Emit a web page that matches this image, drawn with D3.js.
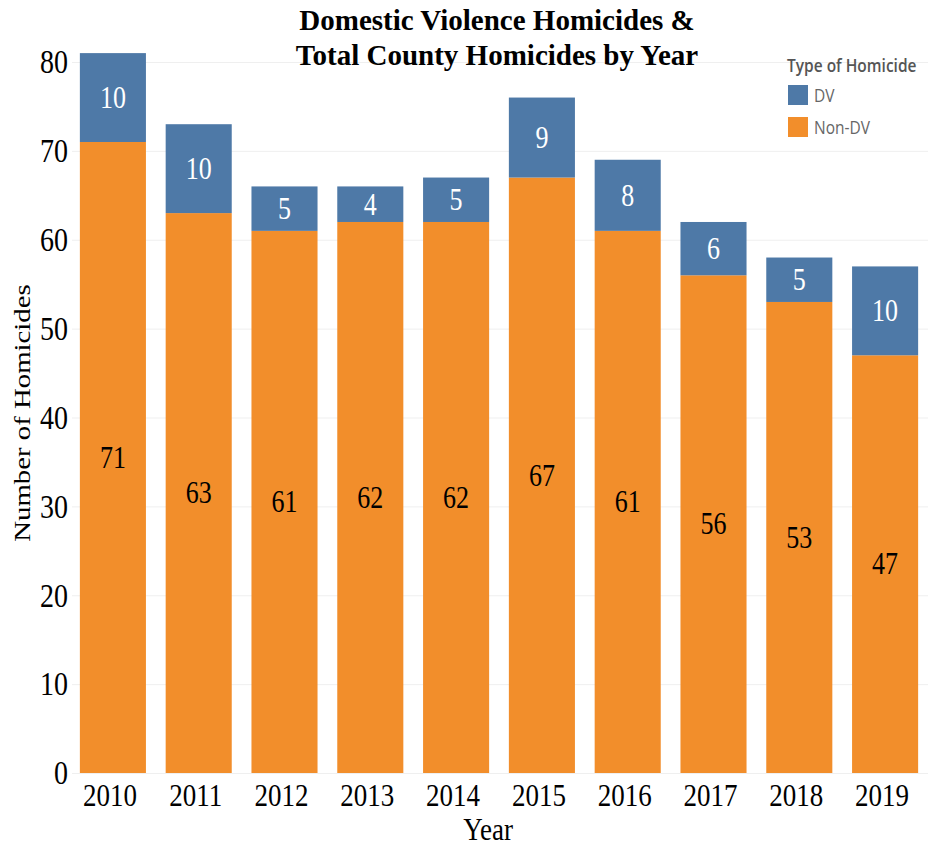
<!DOCTYPE html>
<html>
<head>
<meta charset="utf-8">
<script src="https://cdn.jsdelivr.net/npm/d3@7"></script>
<style>
  body { margin: 0; background: #fff; }
  .axis text { font-family: "Liberation Serif", "Times New Roman", serif; fill: #000; }
</style>
</head>
<body>
<div class="chart"></div>
<script>
const years = ["2010", "2011", "2012", "2013", "2014", "2015", "2016", "2017", "2018", "2019"];
const nonDV = [71, 63, 61, 62, 62, 67, 61, 56, 53, 47];
const dv = [10, 10, 5, 4, 5, 9, 8, 6, 5, 10];
const yTicks = [0, 10, 20, 30, 40, 50, 60, 70, 80];
const legendItems = ["DV", "Non-DV"];

const width = 933;
const height = 848;
const colors = { "DV": "#4e79a7", "Non-DV": "#f28e2b" };
const serif = '"Liberation Serif", "Times New Roman", serif';
const stretch = 1.2; // the source text looks taller than wide

const svg = d3.select(".chart")
	.append("svg")
	.attr("width", width)
	.attr("height", height);

const x = d3.scaleBand()
	.domain(years)
	.range([70, 928])
	.paddingInner(0.23)
	.paddingOuter(0.115);

const y = d3.scaleLinear()
	.domain([0, 80])
	.range([773, 62]);

// gridlines
svg.append("g")
	.selectAll("line")
	.data(yTicks)
	.enter()
	.append("line")
		.attr("x1", 72)
		.attr("x2", 928)
		.attr("y1", (d) => y(d) + 0.5)
		.attr("y2", (d) => y(d) + 0.5)
		.attr("stroke", "#efefef");

// y axis
const yAxis = svg.append("g")
	.attr("class", "axis")
	.attr("transform", "translate(68,0)")
	.call(d3.axisLeft(y).tickValues(yTicks).tickSize(0).tickPadding(0));
yAxis.select(".domain").remove();
yAxis.selectAll("text")
	.style("font-size", "28px")
	.attr("transform", `scale(1,${stretch})`);

// x axis
const xAxis = svg.append("g")
	.attr("class", "axis")
	.attr("transform", "translate(-3,775)")
	.call(d3.axisBottom(x).tickSize(0).tickPadding(7));
xAxis.select(".domain").remove();
xAxis.selectAll("text")
	.style("font-size", "27px")
	.attr("transform", `scale(1,${stretch})`);

const rows = years.map((year, i) => ({ year, nonDV: nonDV[i], dv: dv[i] }));

const bars = svg.append("g")
	.selectAll("g")
	.data(rows)
	.enter()
	.append("g");

bars.append("rect")
	.attr("x", (d) => x(d.year))
	.attr("width", x.bandwidth())
	.attr("y", (d) => y(d.nonDV))
	.attr("height", (d) => y(0) - y(d.nonDV))
	.attr("fill", colors["Non-DV"]);

bars.append("rect")
	.attr("x", (d) => x(d.year))
	.attr("width", x.bandwidth())
	.attr("y", (d) => y(d.nonDV + d.dv))
	.attr("height", (d) => y(d.nonDV) - y(d.nonDV + d.dv))
	.attr("fill", colors["DV"]);

// value labels
const valueLabel = (sel, val, mid, fill) => sel.append("text")
	.attr("transform", (d) => `translate(${x(d.year) + x.bandwidth() / 2},${y(mid(d))}) scale(1,${stretch})`)
	.attr("dy", "0.33em")
	.attr("text-anchor", "middle")
	.style("font-family", serif)
	.style("font-size", "26px")
	.attr("fill", fill)
	.text(val);

valueLabel(bars, (d) => d.nonDV, (d) => d.nonDV / 2, "#000");
valueLabel(bars, (d) => d.dv, (d) => d.nonDV + d.dv / 2, "#fff");

// titles
svg.append("text")
	.attr("text-anchor", "middle")
	.style("font-family", serif)
	.style("font-size", "29px")
	.style("font-weight", "bold")
	.selectAll("tspan")
	.data(["Domestic Violence Homicides &", "Total County Homicides by Year"])
	.enter()
	.append("tspan")
		.attr("x", 497)
		.attr("y", (d, i) => 30 + i * 35)
		.text((d) => d);

svg.append("text")
	.attr("transform", `translate(488,840) scale(1,${stretch})`)
	.attr("text-anchor", "middle")
	.style("font-family", serif)
	.style("font-size", "27px")
	.text("Year");

svg.append("text")
	.attr("transform", "translate(30,413) rotate(-90) scale(1.2,1)")
	.attr("text-anchor", "middle")
	.style("font-family", serif)
	.style("font-size", "24px")
	.text("Number of Homicides");

// legend
const legend = svg.append("g")
	.attr("transform", "translate(787,0)");

legend.append("text")
	.attr("transform", `translate(0,72) scale(1,${stretch})`)
	.style("font-family", '"Open Sans", sans-serif')
	.style("font-size", "15.5px")
	.style("font-weight", "600")
	.attr("fill", "#555")
	.text("Type of Homicide");

const items = legend.selectAll("g")
	.data(legendItems)
	.enter()
	.append("g")
	.attr("transform", (d, i) => `translate(1,${85 + i * 32})`);

items.append("rect")
	.attr("width", 20)
	.attr("height", 20)
	.attr("fill", (d) => colors[d]);

items.append("text")
	.attr("transform", `translate(26,17) scale(1,${stretch})`)
	.style("font-family", '"Open Sans", sans-serif')
	.style("font-size", "15.5px")
	.attr("fill", "#666")
	.text((d) => d);
</script>
</body>
</html>
